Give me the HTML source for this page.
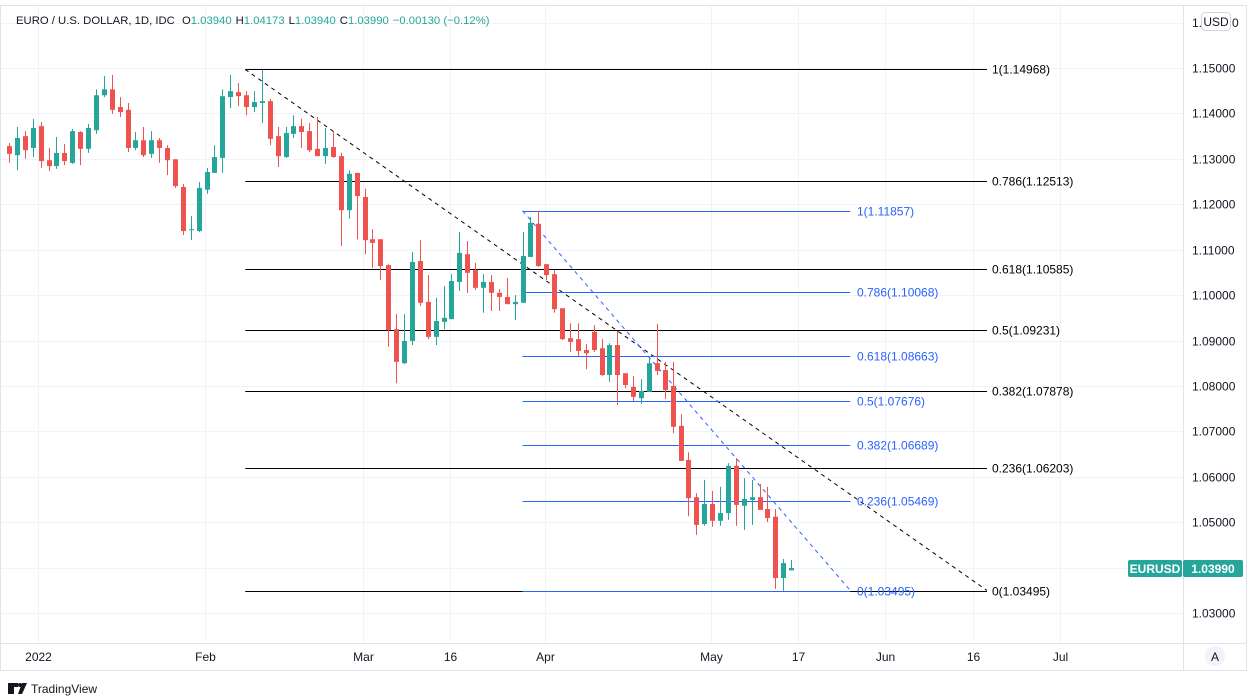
<!DOCTYPE html>
<html><head><meta charset="utf-8"><style>
html,body{margin:0;padding:0;background:#fff;}
svg{display:block;font-family:"Liberation Sans",sans-serif;}
</style></head><body>
<svg id="chart" width="1248" height="700" viewBox="0 0 1248 700" xmlns="http://www.w3.org/2000/svg">
<g id="grid"></g>
<g id="fibs"></g>
<g id="candles"></g>
<g id="axes"></g>
<rect x="0.5" y="5.5" width="1246" height="665" fill="none" stroke="#e0e3eb"/>
<line x1="1183.5" y1="5" x2="1183.5" y2="670" stroke="#e0e3eb"/>
<line x1="0" y1="643.5" x2="1247" y2="643.5" stroke="#e0e3eb"/>
<text x="16" y="24" font-size="11.3" fill="#131722">EURO / U.S. DOLLAR, 1D, IDC <tspan dx="4">O</tspan><tspan fill="#26a69a">1.03940</tspan><tspan dx="4">H</tspan><tspan fill="#26a69a">1.04173</tspan><tspan dx="4">L</tspan><tspan fill="#26a69a">1.03940</tspan><tspan dx="4">C</tspan><tspan fill="#26a69a">1.03990</tspan><tspan dx="4" fill="#26a69a">−0.00130 (−0.12%)</tspan></text>
<text x="1192" y="27" font-size="12" fill="#131722">1.</text>
<rect x="1201.5" y="12.5" width="29" height="18" rx="4" fill="#fff" stroke="#d1d4dc"/>
<text x="1216" y="26" font-size="12" fill="#131722" text-anchor="middle">USD</text>
<text x="1232" y="27" font-size="12" fill="#131722">0</text>
<rect x="1128" y="560" width="54" height="17" rx="2" fill="#26a69a"/>
<text x="1155" y="573" font-size="12" font-weight="bold" fill="#fff" text-anchor="middle">EURUSD</text>
<rect x="1183" y="560" width="60" height="17" rx="2" fill="#26a69a"/>
<text x="1213" y="573" font-size="12" font-weight="bold" fill="#fff" text-anchor="middle">1.03990</text>
<circle cx="1215" cy="656" r="10" fill="#f0f3fa"/>
<text x="1215" y="661" font-size="12" fill="#131722" text-anchor="middle">A</text>
<g>
<rect x="8" y="683" width="6" height="11" fill="#131722"/><rect x="13" y="683" width="5" height="4" fill="#131722"/><circle cx="20" cy="685" r="2" fill="#131722"/><path d="M22 683 L27 683 L22 694 L18 694 Z" fill="#131722"/>
<text x="31" y="693" font-size="12" fill="#131722">TradingView</text>
</g>
</svg>
<script>
const opens=[1.1328,1.1308,1.1350,1.1324,1.1372,1.1297,1.1284,1.1313,1.1291,1.1359,1.1322,1.1363,1.1440,1.1453,1.1414,1.1408,1.1324,1.1341,1.1311,1.1341,1.1324,1.1299,1.1238,1.1143,1.1141,1.1232,1.1269,1.1302,1.1436,1.1447,1.1440,1.1414,1.1423,1.1427,1.1350,1.1304,1.1355,1.1372,1.1361,1.1322,1.1306,1.1326,1.1306,1.1187,1.1269,1.1216,1.1123,1.1123,1.1066,1.0925,1.0850,1.0899,1.1075,1.0985,1.0908,1.0941,1.0947,1.1029,1.1090,1.1055,1.1016,1.1029,1.1005,1.0996,1.0980,1.0983,1.1084,1.1157,1.1068,1.1046,1.0971,1.0905,1.0903,1.0879,1.0919,1.0883,1.0824,1.0890,1.0828,1.0798,1.0773,1.0787,1.0850,1.0835,1.0800,1.0712,1.0637,1.0555,1.0496,1.0540,1.0503,1.0520,1.0624,1.0536,1.0549,1.0555,1.0529,1.0512,1.0377,1.0394];
const closes=[1.1311,1.1346,1.1319,1.1368,1.1295,1.1284,1.1313,1.1295,1.1361,1.1322,1.1368,1.1440,1.1453,1.1408,1.1403,1.1324,1.1341,1.1308,1.1341,1.1324,1.1297,1.1240,1.1141,1.1145,1.1236,1.1271,1.1304,1.1438,1.1449,1.1438,1.1414,1.1425,1.1427,1.1344,1.1306,1.1357,1.1372,1.1359,1.1319,1.1306,1.1324,1.1304,1.1187,1.1267,1.1218,1.1121,1.1115,1.1064,1.0923,1.0853,1.0899,1.1073,1.0983,1.0908,1.0943,1.0950,1.1031,1.1093,1.1049,1.1016,1.1029,1.1005,1.0996,1.0980,1.0985,1.1086,1.1159,1.1064,1.1044,1.0969,1.0903,1.0897,1.0877,1.0872,1.0879,1.0824,1.0890,1.0824,1.0802,1.0776,1.0789,1.0850,1.0833,1.0791,1.0710,1.0635,1.0553,1.0494,1.0540,1.0503,1.0520,1.0624,1.0538,1.0551,1.0555,1.0527,1.0509,1.0377,1.0410,1.0399];
const highs=[1.1335,1.1370,1.1361,1.1388,1.1381,1.1324,1.1348,1.1333,1.1366,1.1361,1.1377,1.1453,1.1482,1.1485,1.1436,1.1423,1.1359,1.1370,1.1361,1.1346,1.1330,1.1299,1.1245,1.1174,1.1249,1.1280,1.1330,1.1453,1.1485,1.1467,1.1449,1.1449,1.1496,1.1432,1.1370,1.1370,1.1396,1.1388,1.1379,1.1392,1.1368,1.1361,1.1313,1.1275,1.1269,1.1234,1.1145,1.1123,1.1068,1.0958,1.0958,1.1095,1.1121,1.1044,1.0994,1.1020,1.1046,1.1139,1.1119,1.1071,1.1046,1.1044,1.1013,1.1038,1.1000,1.1139,1.1172,1.1185,1.1068,1.1055,1.0971,1.0938,1.0938,1.0892,1.0934,1.0903,1.0894,1.0921,1.0828,1.0822,1.0815,1.0866,1.0936,1.0853,1.0853,1.0738,1.0654,1.0564,1.0593,1.0569,1.0578,1.0630,1.0641,1.0597,1.0593,1.0584,1.0578,1.0529,1.0419,1.0417];
const lows=[1.1291,1.1275,1.1300,1.1304,1.1280,1.1273,1.1278,1.1286,1.1289,1.1286,1.1313,1.1355,1.1436,1.1399,1.1392,1.1315,1.1319,1.1304,1.1302,1.1291,1.1264,1.1236,1.1132,1.1121,1.1139,1.1223,1.1269,1.1269,1.1412,1.1416,1.1396,1.1403,1.1379,1.1330,1.1282,1.1302,1.1346,1.1324,1.1315,1.1306,1.1289,1.1302,1.1108,1.1168,1.1123,1.1090,1.1060,1.1033,1.0886,1.0806,1.0848,1.0890,1.0976,1.0903,1.0890,1.0925,1.0947,1.1009,1.1005,1.1011,1.0961,1.0965,1.0965,1.0980,1.0945,1.0983,1.1084,1.1062,1.1033,1.0961,1.0901,1.0875,1.0866,1.0837,1.0875,1.0822,1.0809,1.0758,1.0795,1.0767,1.0760,1.0787,1.0824,1.0771,1.0696,1.0635,1.0513,1.0472,1.0492,1.0490,1.0492,1.0505,1.0492,1.0483,1.0494,1.0527,1.0500,1.0353,1.0349,1.0394];
const priceTicks=[1.15,1.14,1.13,1.12,1.11,1.10,1.09,1.08,1.07,1.06,1.05,1.04,1.03,1.16];
const timeLabels=["2022","Feb","Mar","16","Apr","May","17","Jun","16","Jul"];
const timeLabelIdx=[3.7,24.8,44.8,55.8,67.8,88.9,99.9,110.9,122,133];
const blackLevels=[1,0.786,0.618,0.5,0.382,0.236,0];
const blackPrices=[1.14968,1.12513,1.10585,1.09231,1.07878,1.06203,1.03495];
const blueLevels=[1,0.786,0.618,0.5,0.382,0.236,0];
const bluePrices=[1.11857,1.10068,1.08663,1.07676,1.06689,1.05469,1.03495];
const blackStartIdx=29.9, blackEndIdx=123.8;
const blueStartIdx=65, blueEndIdx=106.5;

const NS="http://www.w3.org/2000/svg";
function yS(p){return 68+(1.15-p)*4541.7;}
function xS(i){return 9+i*7.9;}
function mk(tag,attrs,parent){const e=document.createElementNS(NS,tag);for(const k in attrs)e.setAttribute(k,attrs[k]);parent.appendChild(e);return e;}
const grid=document.getElementById('grid'),fibs=document.getElementById('fibs'),cg=document.getElementById('candles'),ax=document.getElementById('axes');

priceTicks.forEach(p=>{
  const y=Math.round(yS(p))+0.5;
  const l=mk('line',{x1:0,x2:1183,y1:y,y2:y,stroke:'#f0f3fa'},grid);
  
  
  if(p<1.155){
    const t=mk('text',{x:1192,y:y+4,'font-size':12,fill:'#131722'},ax);
    t.textContent=p.toFixed(5);
    
    
  }
});
timeLabels.forEach((s,k)=>{
  const x=Math.round(xS(timeLabelIdx[k]))+0.5;
  const l=mk('line',{x1:x,x2:x,y1:5,y2:643,stroke:'#f0f3fa'},grid);
  
  
  const t=mk('text',{x:x,y:661,'font-size':12,fill:'#131722','text-anchor':'middle'},ax);
  t.textContent=s;
  
  
});

function drawFib(levels,prices,i0,i1,color,labelX,name){
  const x0=xS(i0),x1=xS(i1);
  levels.forEach((lv,k)=>{
    const y=Math.round(yS(prices[k]))+0.5;
    const l=mk('line',{x1:x0,x2:x1,y1:y,y2:y,stroke:color,'stroke-width':1},fibs);
    
    
    const t=mk('text',{x:labelX,y:y+4,'font-size':12,fill:color},fibs);
    t.textContent=lv+'('+prices[k].toFixed(5)+')';
    
    
  });
  const d=mk('line',{x1:x0,y1:yS(prices[0]),x2:x1,y2:yS(prices[prices.length-1]),stroke:color,'stroke-dasharray':'4 4','stroke-width':1},fibs);
  
  
}
drawFib(blackLevels,blackPrices,blackStartIdx,blackEndIdx,'#000000',992,'black-fib');
drawFib(blueLevels,bluePrices,blueStartIdx,blueEndIdx,'#2962ff',857,'blue-fib');

opens.forEach((o,i)=>{
  const c=closes[i],h=highs[i],lo=lows[i];
  const col=c>=o?'#26a69a':'#ef5350';
  const x=Math.round(xS(i));
  const g=mk('g',{},cg);
  
  
  mk('line',{x1:x+0.5,x2:x+0.5,y1:yS(h),y2:yS(lo),stroke:col,'stroke-width':1},g);
  const yt=yS(Math.max(o,c)),yb=yS(Math.min(o,c));
  mk('rect',{x:x-2,y:yt,width:5,height:Math.max(1,yb-yt),fill:col},g);
});
</script>
</body></html>
